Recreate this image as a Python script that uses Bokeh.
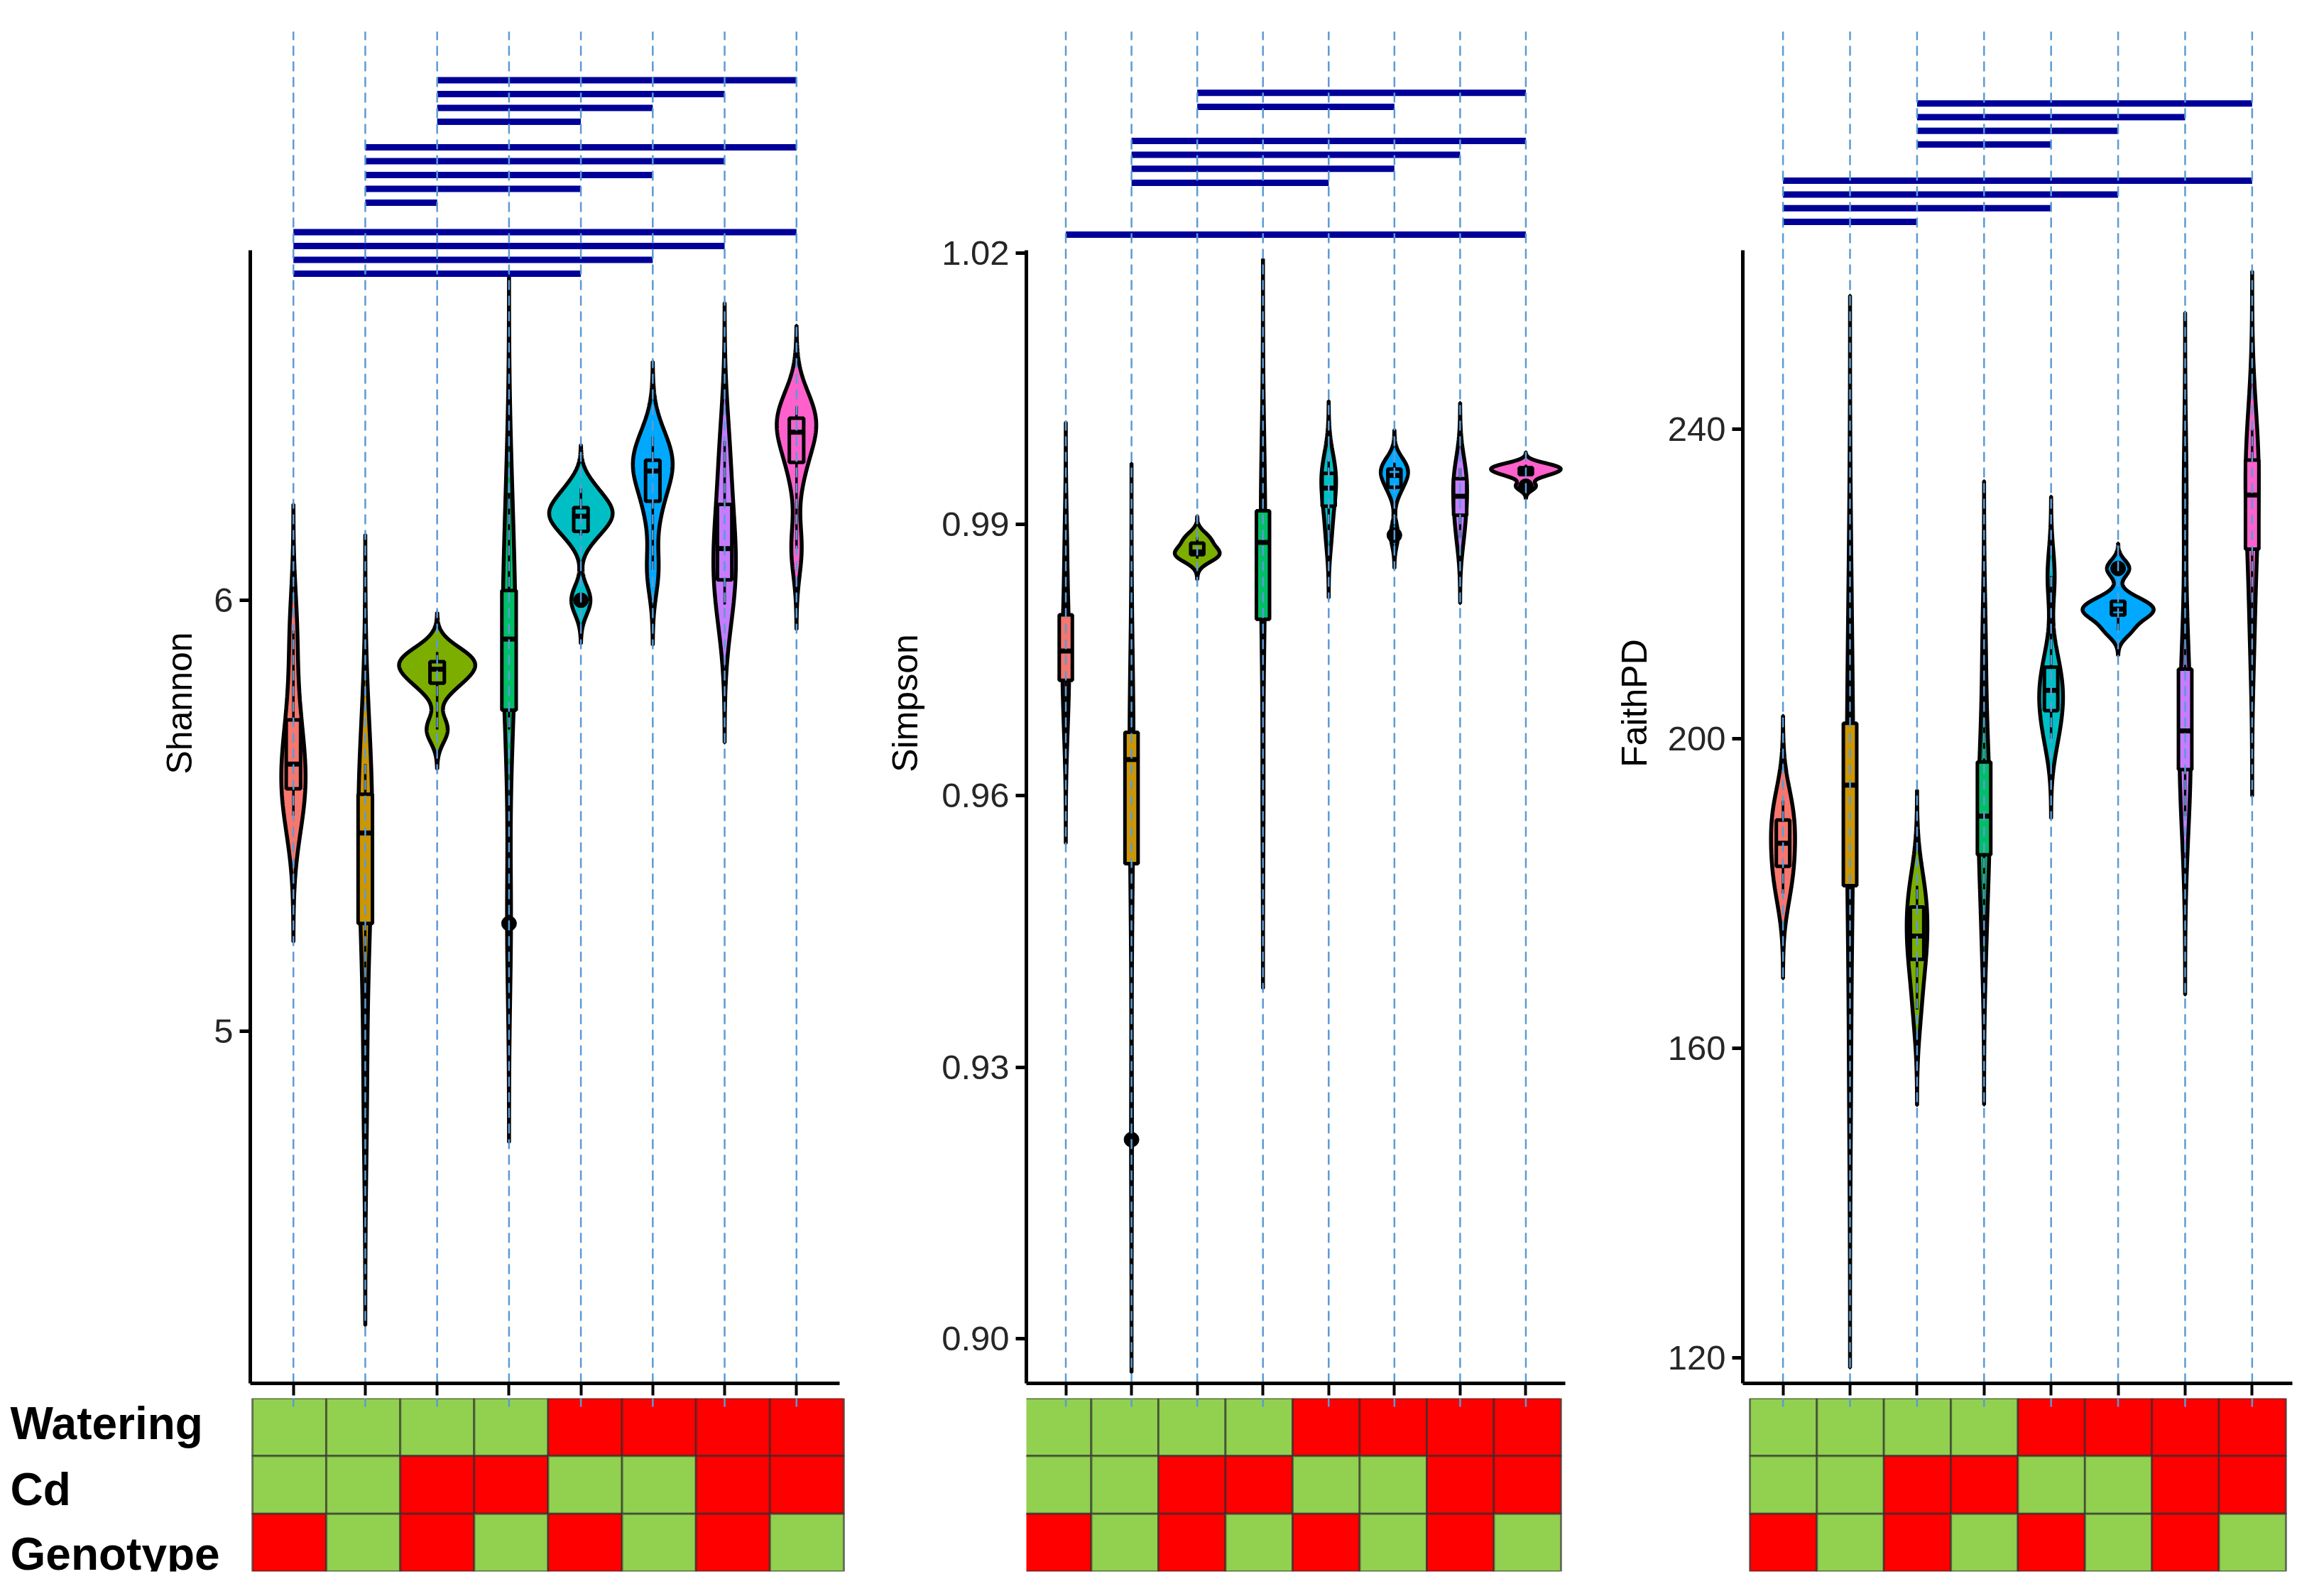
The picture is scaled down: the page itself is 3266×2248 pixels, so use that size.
import numpy as np
from bokeh.plotting import figure
from bokeh.layouts import row, column
from bokeh.models import Range1d, FixedTicker, PrintfTickFormatter, ColumnDataSource
from bokeh.embed import file_html
from bokeh.resources import INLINE
from bokeh.core.properties import value

# ---------------- data ----------------
groups = [1, 2, 3, 4, 5, 6, 7, 8]
group_colors = ["#F8766D", "#CD9600", "#7CAE00", "#00BE67",
                "#00BFC4", "#00A9FF", "#C77CFF", "#FF61CC"]

shannon_values = [
    [5.50, 5.55, 5.60, 5.64, 5.75, 5.93],
    [4.85, 5.20, 5.30, 5.46, 5.52, 5.58, 5.62],
    [5.70, 5.80, 5.83, 5.85, 5.86, 5.88],
    [5.25, 5.70, 5.88, 5.94, 6.05, 6.25],
    [6.00, 6.15, 6.19, 6.20, 6.22, 6.26],
    [6.07, 6.21, 6.29, 6.31, 6.33, 6.38],
    [5.99, 6.03, 6.10, 6.14, 6.25, 6.37],
    [6.12, 6.30, 6.38, 6.40, 6.43, 6.45],
]
shannon_outliers = [[], [], [], [5.25], [6.00], [], [], []]

simpson_values = [
    [0.968, 0.972, 0.975, 0.977, 0.981, 0.988],
    [0.922, 0.950, 0.955, 0.964, 0.966, 0.968, 0.971],
    [0.9862, 0.9866, 0.9868, 0.9871, 0.9882, 0.9886],
    [0.960, 0.978, 0.981, 0.988, 0.990, 0.993, 0.998],
    [0.9885, 0.9915, 0.9935, 0.9945, 0.9960, 0.9970],
    [0.9888, 0.9938, 0.9950, 0.9958, 0.9962, 0.9968],
    [0.9885, 0.9905, 0.9925, 0.9937, 0.9955, 0.9962],
    [0.9942, 0.9954, 0.9958, 0.9961, 0.9963, 0.9966],
]
simpson_outliers = [[], [0.922], [], [], [], [0.9888], [], [0.9942]]

faith_values = [
    [180, 183, 185, 188, 190, 192],
    [156, 178, 184, 194, 198, 206, 220],
    [165, 171, 173, 176, 179, 181],
    [174, 183, 187, 190, 195, 199, 212],
    [200, 203, 205.5, 207, 210, 221],
    [214.0, 215.8, 216.5, 217.0, 218.0, 222.0],
    [190, 194, 198, 201, 206, 212, 232],
    [213, 222, 227, 231.5, 235, 237, 240],
]
faith_outliers = [[], [], [], [], [], [222.0], [], []]

shannon_ticks = [5, 6]
simpson_ticks = [0.90, 0.93, 0.96, 0.99, 1.02]
faith_ticks = [120, 160, 200, 240]

# significant pairwise comparisons, lowest bracket group first
shannon_pairs = [[(1, 5), (1, 6), (1, 7), (1, 8)],
                 [(2, 3), (2, 5), (2, 6), (2, 7), (2, 8)],
                 [(3, 5), (3, 6), (3, 7), (3, 8)]]
simpson_pairs = [[(1, 8)],
                 [(2, 5), (2, 6), (2, 7), (2, 8)],
                 [(3, 6), (3, 8)]]
faith_pairs = [[(1, 3), (1, 5), (1, 6), (1, 8)],
               [(3, 5), (3, 6), (3, 7), (3, 8)]]

factor_names = ["Watering", "Cd", "Genotype"]
watering = [0, 0, 0, 0, 1, 1, 1, 1]
cd = [0, 0, 1, 1, 0, 0, 1, 1]
genotype = [1, 0, 1, 0, 1, 0, 1, 0]
level_colors = ["#92D050", "#FF0000"]

# ---------------- layout / style constants (page pixels) ----------------
ADJUST = 1.3
HALF_WIDTH = 0.53
FRAME_TOP, FRAME_BOT, AXIS_TOP, DASH_TOP = 40, 1956, 360, 52
HEAT_TOP, HEAT_BOT, PAGE_BOT = 1977, 2221, 2232
COLS = [(8, 1225), (1225, 2260), (2260, 3258)]
FRAMES = [(360, 1190), (1453, 2212), (2462, 3236)]
HEAT_X = [(363, 1196), (1450, 2206), (2472, 3227)]
ANCHORS = [((5, 1460), (6, 853)), ((0.90, 1893), (0.99, 746)), ((120, 1920), (200, 1048))]
BARS = [(393, 19.5, [41.5, 36]), (338, 19.7, [73, 48]), (320, 19.3, [51])]
TICK_STANDOFF = 9
TITLE_STANDOFF = [17, 20, 16]
LABEL_LEFT = 22
LABEL_BASELINES = [2012, 2105, 2196]
FONT = "Liberation Sans"
DASH_COLOR = "#5B9BD5"
BAR_COLOR = "#000099"


def nrd0(x):
    hi = np.std(x, ddof=1)
    q75, q25 = np.percentile(x, [75, 25])
    lo = min(hi, (q75 - q25) / 1.34)
    if lo <= 0:
        lo = hi if hi > 0 else 1.0
    return 0.9 * lo * len(x) ** -0.2


def density(x):
    x = np.asarray(x, float)
    bw = nrd0(x) * ADJUST
    grid = np.linspace(x.min() - 3 * bw, x.max() + 3 * bw, 512)
    d = np.exp(-0.5 * ((grid[:, None] - x[None, :]) / bw) ** 2).sum(axis=1)
    d /= len(x) * bw * np.sqrt(2 * np.pi)
    return grid, d


def top_panel(k, vals, outs, ticks, fmt, title, pairs):
    c0, c1 = COLS[k]
    f0, f1 = FRAMES[k]
    (t1, y1), (t2, y2) = ANCHORS[k]

    def v(Y):
        return t1 + (Y - y1) * (t2 - t1) / (y2 - y1)

    p = figure(width=c1 - c0, height=HEAT_TOP - 8,
               x_range=Range1d(0.4, 8.6), y_range=Range1d(v(FRAME_BOT), v(FRAME_TOP)),
               min_border_left=f0 - c0, min_border_right=c1 - f1,
               min_border_top=FRAME_TOP - 8, min_border_bottom=HEAT_TOP - FRAME_BOT,
               output_backend="svg", toolbar_location=None)
    p.xgrid.visible = False
    p.ygrid.visible = False
    p.outline_line_color = None
    p.background_fill_color = "white"
    p.border_fill_color = "white"

    # violins (trim = FALSE, scale = "area")
    dens = [density(g) for g in vals]
    dmax = max(d.max() for _, d in dens)
    xs, ys = [], []
    for g, (grid, d) in zip(groups, dens):
        hw = HALF_WIDTH * d / dmax
        xs.append(np.concatenate([g - hw, (g + hw)[::-1]]))
        ys.append(np.concatenate([grid, grid[::-1]]))
    p.patches(xs, ys, fill_color=group_colors, line_color="black", line_width=5.5)

    # boxplots
    q1s, meds, q3s, lo_w, hi_w = [], [], [], [], []
    for g, o in zip(vals, outs):
        a = np.asarray(g, float)
        q1, med, q3 = np.percentile(a, [25, 50, 75])
        inner = [x for x in g if x not in o]
        q1s.append(q1); meds.append(med); q3s.append(q3)
        lo_w.append(min(inner)); hi_w.append(max(inner))
    src = ColumnDataSource(dict(x=groups, l=[g - 0.1 for g in groups], r=[g + 0.1 for g in groups],
                                q1=q1s, med=meds, q3=q3s, lo=lo_w, hi=hi_w, c=group_colors))
    p.segment(x0="x", y0="lo", x1="x", y1="q1", source=src, line_color="black", line_width=3.5)
    p.segment(x0="x", y0="q3", x1="x", y1="hi", source=src, line_color="black", line_width=3.5)
    p.quad(left="l", right="r", bottom="q1", top="q3", source=src,
           fill_color="c", line_color="black", line_width=5)
    p.segment(x0="l", y0="med", x1="r", y1="med", source=src, line_color="black", line_width=7)
    ox = [g for g, o in zip(groups, outs) for _ in o]
    oy = [y for o in outs for y in o]
    p.scatter(ox, oy, size=21, marker="circle", fill_color="black", line_color="black")

    # significance brackets
    base, step, gaps = BARS[k]
    Y = base
    bx0, bx1, by = [], [], []
    for gi, grp in enumerate(pairs):
        if gi > 0:
            Y -= gaps[gi - 1]
        for j, (a, b) in enumerate(grp):
            if j > 0:
                Y -= step
            bx0.append(a); bx1.append(b); by.append(v(Y))
    p.segment(x0=bx0, y0=by, x1=bx1, y1=by, line_color=BAR_COLOR, line_width=9)

    # dashed guide lines
    p.segment(x0=groups, y0=[v(FRAME_BOT)] * 8, x1=groups, y1=[v(DASH_TOP)] * 8,
              line_color=DASH_COLOR, line_width=2.5, line_dash="14 8")

    ya = p.yaxis[0]
    ya.ticker = FixedTicker(ticks=ticks)
    if fmt:
        ya.formatter = PrintfTickFormatter(format=fmt)
    ya.bounds = (v(FRAME_BOT), v(AXIS_TOP))
    ya.axis_line_width = 5
    ya.axis_line_color = "black"
    ya.major_tick_line_width = 5
    ya.major_tick_line_color = "black"
    ya.major_tick_out = 15
    ya.major_tick_in = 0
    ya.minor_tick_line_color = None
    ya.major_label_text_font = FONT
    ya.major_label_text_font_size = "49px"
    ya.major_label_text_color = "#262626"
    ya.major_label_standoff = TICK_STANDOFF
    ya.axis_label = title
    ya.axis_label_text_font = FONT
    ya.axis_label_text_font_size = "50px"
    ya.axis_label_text_font_style = "normal"
    ya.axis_label_text_color = "black"
    ya.axis_label_standoff = TITLE_STANDOFF[k]

    xa = p.xaxis[0]
    xa.ticker = FixedTicker(ticks=groups)
    xa.axis_line_width = 5
    xa.axis_line_color = "black"
    xa.major_tick_out = 17
    xa.major_tick_in = 0
    xa.major_tick_line_width = 4
    xa.major_tick_line_color = "black"
    xa.minor_tick_line_color = None
    xa.major_label_text_color = None
    xa.major_label_text_font_size = "1px"
    xa.major_label_standoff = 0
    return p


def heat_panel(k, full_frame):
    c0, c1 = COLS[k]
    h0, h1 = HEAT_X[k]
    f0, f1 = FRAMES[k]
    # frame spans either the whole column or the same span as the plot above
    g0, g1 = (c0, c1) if full_frame else (f0, f1)
    u = (h1 - h0) / 8.0
    rowh = (HEAT_BOT - HEAT_TOP) / 3.0
    p = figure(width=c1 - c0, height=PAGE_BOT - HEAT_TOP,
               x_range=Range1d(0.5 - (h0 - g0) / u, 8.5 + (g1 - h1) / u),
               y_range=Range1d(0.5, 3.5),
               min_border_left=g0 - c0, min_border_right=c1 - g1,
               min_border_top=0, min_border_bottom=PAGE_BOT - HEAT_BOT,
               x_axis_location=None, y_axis_location=None,
               output_backend="svg", toolbar_location=None)
    p.xgrid.visible = False
    p.ygrid.visible = False
    p.outline_line_color = None
    levels = [watering, cd, genotype]
    xs, ys, cs = [], [], []
    for r, lv in enumerate(levels):
        for g, val in zip(groups, lv):
            xs.append(g); ys.append(3 - r); cs.append(level_colors[val])
    p.rect(x=xs, y=ys, width=1, height=1, fill_color=cs,
           line_color="#2b2b2b", line_alpha=0.6, line_width=3)
    # continuation of the dashed guide lines
    gx = [0.5 + (f0 + (g - 0.4) / 8.2 * (f1 - f0) - h0) / u for g in groups]
    p.segment(x0=gx, y0=[3.5] * 8, x1=gx, y1=[3.5 - 12 / rowh] * 8,
              line_color=DASH_COLOR, line_width=2.5, line_dash="14 8")
    if k == 0:
        lx = 0.5 + (LABEL_LEFT - h0) / u
        ly = [3.5 - (Yb - HEAT_TOP) / rowh for Yb in LABEL_BASELINES]
        p.text(x=[lx] * 3, y=ly, text=factor_names, text_font=value(FONT),
               text_font_size="64px", text_font_style="bold", text_color="black",
               text_align="left", text_baseline="alphabetic")
    return p


t0 = top_panel(0, shannon_values, shannon_outliers, shannon_ticks, None, "Shannon", shannon_pairs)
t1 = top_panel(1, simpson_values, simpson_outliers, simpson_ticks, "%.2f", "Simpson", simpson_pairs)
t2 = top_panel(2, faith_values, faith_outliers, faith_ticks, None, "FaithPD", faith_pairs)

layout = row(column(t0, row(heat_panel(0, True), spacing=0), spacing=0),
             column(t1, heat_panel(1, False), spacing=0),
             column(t2, heat_panel(2, False), spacing=0), spacing=0)

open("out.html", "w").write(file_html(layout, INLINE, title="alpha diversity"))
